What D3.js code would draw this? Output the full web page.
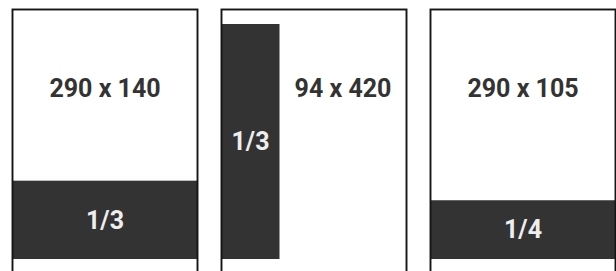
<!DOCTYPE html>
<html>
<head>
<meta charset="utf-8">
<script src="https://cdn.jsdelivr.net/npm/d3@7"></script>
<style>
  body { margin: 0; background: #fff; }
  svg { display: block; font-family: Roboto, "Liberation Sans", sans-serif; }
</style>
</head>
<body>
<div id="chart"></div>
<script>
// panel data
const sizeLabels = ["290 x 140", "94 x 420", "290 x 105"];
const fractions = [1 / 3, 1 / 3, 1 / 4];
const fractionLabels = ["1/3", "1/3", "1/4"];
const fillSides = ["bottom", "left", "bottom"];

const width = 616;
const height = 271;

const svg = d3
  .select("#chart")
  .append("svg")
  .attr("width", width)
  .attr("height", height);

// panel positions
const x = d3
  .scaleBand()
  .domain(d3.range(sizeLabels.length))
  .range([12.5, 615.5])
  .paddingInner(24 / 209)
  .paddingOuter(0);

const boxTop = 9.5;
const fillTop = 24;
const fillBottom = 259;

// fill size scales
const yFill = d3.scaleLinear().domain([0, 1]).range([0, fillBottom - fillTop]);
const xFill = d3.scaleLinear().domain([0, 1]).range([0, 174]);

const panels = svg
  .selectAll("g.panel")
  .data(d3.range(sizeLabels.length))
  .join("g")
  .attr("class", "panel")
  .attr("transform", (i) => `translate(${x(i)},0)`);

const bw = x.bandwidth();

// fills
panels
  .append("rect")
  .attr("fill", "#333")
  .attr("x", 0)
  .attr("width", (i) => (fillSides[i] === "left" ? xFill(fractions[i]) : bw))
  .attr("y", (i) =>
    fillSides[i] === "left" ? fillTop : fillBottom - yFill(fractions[i])
  )
  .attr("height", (i) =>
    fillSides[i] === "left" ? fillBottom - fillTop : yFill(fractions[i])
  );

// box outline (runs past the bottom edge)
panels
  .append("rect")
  .attr("x", 0)
  .attr("y", boxTop)
  .attr("width", bw)
  .attr("height", 300)
  .attr("fill", "none")
  .attr("stroke", "#151515")
  .attr("stroke-width", 1.9);

// size labels
panels
  .append("text")
  .attr("x", (i) =>
    fillSides[i] === "left" ? (xFill(fractions[i]) + bw) / 2 : bw / 2
  )
  .attr("y", 97)
  .attr("text-anchor", "middle")
  .attr("fill", "#333")
  .style("font-size", "25px")
  .style("font-weight", 700)
  .text((i) => sizeLabels[i]);

// fraction labels
panels
  .append("text")
  .attr("x", (i) => (fillSides[i] === "left" ? xFill(fractions[i]) / 2 : bw / 2))
  .attr("y", (i) =>
    fillSides[i] === "left"
      ? (fillTop + fillBottom) / 2
      : fillBottom - yFill(fractions[i]) / 2
  )
  .attr("dy", "0.35em")
  .attr("text-anchor", "middle")
  .attr("fill", "#eee")
  .style("font-size", "25px")
  .style("font-weight", 700)
  .text((i) => fractionLabels[i]);
</script>
</body>
</html>
